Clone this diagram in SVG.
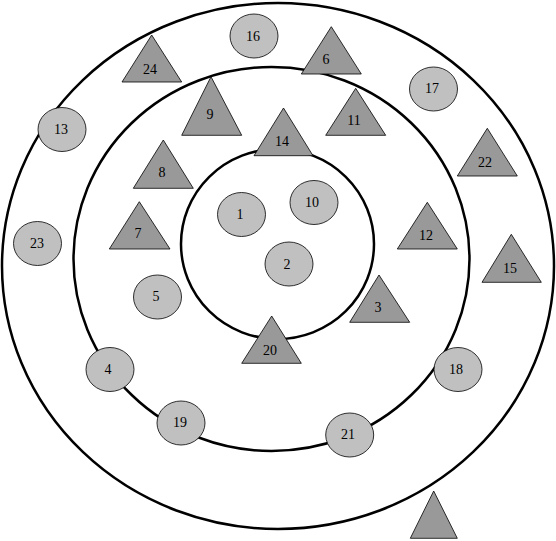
<svg xmlns="http://www.w3.org/2000/svg" width="556" height="541" viewBox="0 0 556 541">
<style>
.ring{fill:none;stroke:#000;stroke-width:2.5}
.c{fill:#c0c0c0;stroke:#000;stroke-width:0.8}
.t{fill:#999999;stroke:#000;stroke-width:0.8}
text{font-family:"Liberation Serif","Times New Roman",serif;font-size:14px;text-anchor:middle;fill:#000}
</style>
<rect width="556" height="541" fill="#fff"/>
<g id="rings">
<ellipse class="ring" cx="278" cy="266" rx="276" ry="263"/>
<ellipse class="ring" cx="271.5" cy="259" rx="198" ry="192"/>
<ellipse class="ring" cx="277.5" cy="244" rx="96.5" ry="95"/>
</g>
<g id="connectors"></g>
<g id="n16"><ellipse class="c" cx="254" cy="36" rx="24" ry="22"/><text x="253" y="41">16</text></g>
<g id="n13"><ellipse class="c" cx="62" cy="129.5" rx="24" ry="22"/><text x="61" y="134">13</text></g>
<g id="n23"><ellipse class="c" cx="37.5" cy="243.5" rx="24" ry="22"/><text x="37" y="248">23</text></g>
<g id="n1"><ellipse class="c" cx="241.5" cy="214.5" rx="24" ry="22"/><text x="240" y="219">1</text></g>
<g id="n10"><ellipse class="c" cx="314" cy="202.5" rx="24" ry="22"/><text x="312" y="207">10</text></g>
<g id="n17"><ellipse class="c" cx="433.5" cy="89" rx="24" ry="22"/><text x="432" y="93">17</text></g>
<g id="n2"><ellipse class="c" cx="289" cy="264" rx="24" ry="22"/><text x="287" y="269">2</text></g>
<g id="n5"><ellipse class="c" cx="157.5" cy="297" rx="24" ry="22"/><text x="156" y="301">5</text></g>
<g id="n4"><ellipse class="c" cx="110" cy="369.5" rx="24" ry="22"/><text x="108" y="374">4</text></g>
<g id="n19"><ellipse class="c" cx="181" cy="423" rx="24" ry="22"/><text x="180" y="427">19</text></g>
<g id="n18"><ellipse class="c" cx="458" cy="369.5" rx="24" ry="22"/><text x="456" y="374">18</text></g>
<g id="n21"><ellipse class="c" cx="349.7" cy="435" rx="24" ry="22"/><text x="348" y="439">21</text></g>
<g id="n24"><polygon class="t" points="151.7,35 181.7,82 122,82"/><text x="150" y="74">24</text></g>
<g id="n9"><polygon class="t" points="211,76.7 241.7,135.3 181.7,135.3"/><text x="210" y="119">9</text></g>
<g id="n8"><polygon class="t" points="163.3,140 193.3,188.3 133.3,188.3"/><text x="162" y="177">8</text></g>
<g id="n7"><polygon class="t" points="139.3,201.7 170,249 109.3,249"/><text x="138" y="238">7</text></g>
<g id="n14"><polygon class="t" points="283.5,108 313,155.7 254,155.7"/><text x="282" y="146">14</text></g>
<g id="n6"><polygon class="t" points="331.3,26.7 361.3,74 301.3,74"/><text x="326" y="64">6</text></g>
<g id="n11"><polygon class="t" points="355.7,88.3 385.7,135.3 325.7,135.3"/><text x="354" y="125">11</text></g>
<g id="n22"><polygon class="t" points="487.3,128.3 517.3,176 457.3,176"/><text x="485" y="167">22</text></g>
<g id="n12"><polygon class="t" points="427.3,202.3 457.3,249 397.3,249"/><text x="426" y="240">12</text></g>
<g id="n15"><polygon class="t" points="511.3,234.3 541.3,282.3 482,282.3"/><text x="510" y="273">15</text></g>
<g id="n3"><polygon class="t" points="379,275 409.7,322.3 349.7,322.3"/><text x="378" y="312">3</text></g>
<g id="n20"><polygon class="t" points="271.7,316 301.3,363.3 241.7,363.3"/><text x="270" y="355">20</text></g>
<g id="n0"><polygon class="t" points="433.7,491 457.3,538.3 410.3,538.3"/></g>
</svg>
